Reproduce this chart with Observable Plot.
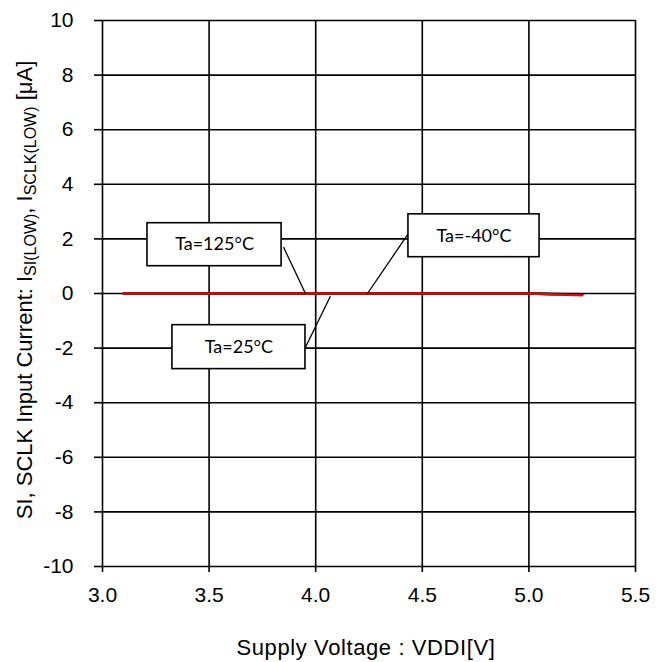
<!DOCTYPE html>
<html><head><meta charset="utf-8">
<script src="https://cdn.jsdelivr.net/npm/d3@7"></script>
<script src="https://cdn.jsdelivr.net/npm/@observablehq/plot@0.6"></script>
<style>body{margin:0;background:#fff}#chart{position:relative;width:670px;height:662px}</style>
</head><body><div id="chart"></div>
<script>
const xTicks = [3.0, 3.5, 4.0, 4.5, 5.0, 5.5];
const yTicks = [-10, -8, -6, -4, -2, 0, 2, 4, 6, 8, 10];
const voltage = [3.1, 3.5, 4.0, 4.5, 5.0, 5.1, 5.25];
const iMinus40 = [0, 0, 0, 0, 0, -0.02, -0.03];
const i25 = [0, 0, 0, 0, 0, -0.02, -0.04];
const i125 = [0, 0, 0, 0, 0, -0.03, -0.06];
const labels = ["Ta=125°C", "Ta=25°C", "Ta=-40°C"];
const boxX1 = [3.211, 3.328, 4.435];
const boxX2 = [3.840, 3.952, 5.05];
const boxY1 = [1.0, -2.77, 1.33];
const boxY2 = [2.575, -1.16, 2.90];
const leadX1 = [3.849, 3.952, 4.435];
const leadY1 = [1.70, -1.97, 2.2];
const leadX2 = [3.952, 4.069, 4.243];
const leadY2 = [0.0, -0.1, 0.0];

const series = (name, ys) => voltage.map((v, i) => ({v, i: ys[i], name}));
const blackData = [...series("-40", iMinus40), ...series("25", i25)];
const redData = series("125", i125);
const notes = labels.map((t, k) => ({t, x1: boxX1[k], x2: boxX2[k], y1: boxY1[k], y2: boxY2[k],
  lx1: leadX1[k], ly1: leadY1[k], lx2: leadX2[k], ly2: leadY2[k]}));

const plot = Plot.plot({
  width: 670, height: 662,
  marginLeft: 102, marginRight: 35, marginTop: 20, marginBottom: 96,
  style: {fontFamily: "'Liberation Sans', Arial, sans-serif", fontSize: "21px", color: "#000", background: "#fff"},
  x: {domain: [3.0, 5.5]},
  y: {domain: [-10, 10]},
  marks: [
    Plot.ruleX(xTicks, {stroke: "#000", strokeWidth: 1.6}),
    Plot.ruleY(yTicks, {stroke: "#000", strokeWidth: 1.6}),
    Plot.axisX(xTicks, {tickSize: 6, tickPadding: 15, tickFormat: d => d.toFixed(1), fontSize: 21, strokeWidth: 1.6, label: null}),
    Plot.axisY(yTicks, {tickSize: 8, tickPadding: 21, tickFormat: d => String(d), fontSize: 21, strokeWidth: 1.6, label: null}),
    Plot.line(blackData, {x: "v", y: "i", z: "name", stroke: "#000", strokeWidth: 2.5}),
    Plot.line(redData, {x: "v", y: "i", stroke: "#d01010", strokeWidth: 2.5}),
    Plot.link(notes, {x1: "lx1", y1: "ly1", x2: "lx2", y2: "ly2", stroke: "#000", strokeWidth: 1.3}),
    Plot.rect(notes, {x1: "x1", x2: "x2", y1: "y1", y2: "y2", fill: "#fff", stroke: "#000", strokeWidth: 1.6}),
    Plot.text(notes, {x: d => (d.x1 + d.x2) / 2, y: d => (d.y1 + d.y2) / 2, text: "t",
      fontSize: 18, fontFamily: "Lato, 'Open Sans', sans-serif", fill: "#000"})
  ]
});
document.getElementById("chart").appendChild(plot);

const svg = d3.select(plot);
const font = "'Liberation Sans', Arial, sans-serif";
svg.append("text")
  .attr("x", 366).attr("y", 655)
  .attr("text-anchor", "middle")
  .attr("font-family", font).attr("font-size", 22).attr("letter-spacing", 0.6).attr("fill", "#000")
  .text("Supply Voltage : VDDI[V]");

const t = svg.append("text")
  .attr("transform", "translate(32,290) rotate(-90)")
  .attr("text-anchor", "middle")
  .attr("font-family", font)
  .attr("font-size", 22)
  .attr("fill", "#000");
t.append("tspan").text("SI, SCLK Input Current: I");
t.append("tspan").attr("font-size", 16).attr("dy", 4).text("SI(LOW)");
t.append("tspan").attr("dy", -4).text(", I");
t.append("tspan").attr("font-size", 16).attr("dy", 4).text("SCLK(LOW)");
t.append("tspan").attr("dy", -4).text(" [μA]");
</script>
</body></html>
